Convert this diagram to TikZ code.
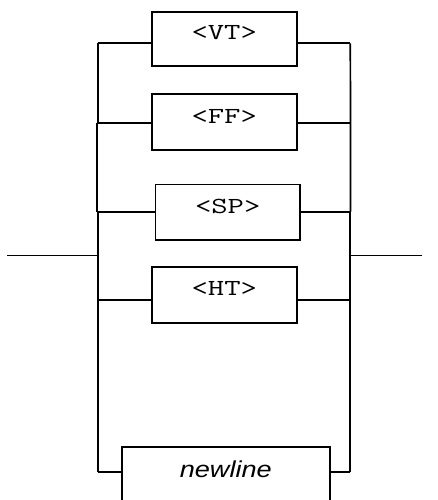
\documentclass[tikz,border=0pt]{standalone}
\usepackage{fontspec}
\setmainfont{Liberation Sans}
\begin{document}
\begin{tikzpicture}[x=1pt,y=-1pt,line width=1.7pt,
  termbox/.style={draw,rectangle,inner sep=0pt,text height=14pt,text depth=12pt,
    font=\ttfamily\fontsize{23}{27}\selectfont},
  ntbox/.style={draw,rectangle,inner sep=0pt,text height=16pt,text depth=12pt,
    font=\fontsize{23}{27}\selectfont\itshape}]
\useasboundingbox (0,0) rectangle (437,500);
\newcommand{\wideT}[1]{\scalebox{1.38}[1]{#1}}
% boxes
\node[termbox,minimum width=145pt,minimum height=53.4pt] (vt) at (224.2,39) {\wideT{<VT>}};
\node[termbox,minimum width=145pt,minimum height=55.7pt] (ff) at (224.2,122.2) {\wideT{<FF>}};
\node[termbox,minimum width=144.7pt,minimum height=55.7pt] (sp) at (227.7,212.2) {\wideT{<SP>}};
\node[termbox,minimum width=144.7pt,minimum height=56pt] (ht) at (224.3,294.7) {\wideT{<HT>}};
\node[ntbox,minimum width=208.3pt,minimum height=56pt] (nl) at (225.8,475.3) {\scalebox{1.18}[1]{newline}};
% rail coordinates
\coordinate (in) at (7.3,255.5);
\coordinate (out) at (422,255.5);
\coordinate (lj) at (98.0,255.5);
\coordinate (rj) at (350.4,255.5);
\coordinate (l1) at (97.7,43.3);
\coordinate (l2a) at (97.7,123.3);
\coordinate (l2b) at (96.7,123.3);
\coordinate (l3a) at (96.7,211.7);
\coordinate (l3b) at (98.0,211.7);
\coordinate (l4) at (98.0,300.3);
\coordinate (l5) at (98.0,472.3);
\coordinate (r1) at (350.3,43.3);
\coordinate (r2) at (350.5,123.3);
\coordinate (r3) at (350.5,211.7);
\coordinate (r3b) at (350.3,211.7);
\coordinate (r4) at (350.3,300.3);
\coordinate (r5) at (350.3,472.3);
% main line
\draw (in) -- (lj);
\draw (rj) -- (out);
% left rails
\draw (l1) -- (l2a);
\draw (l2b) -- (l3a);
\draw (l3b) -- (l5);
% right rails
\draw (r1) -- (r2) -- (r3);
\draw (r3b) -- (r5);
% branches
\draw (l1) -- (l1 -| vt.west);
\draw (l2b) -- (l2b -| ff.west);
\draw (l3b) -- (l3b -| sp.west);
\draw (l4) -- (l4 -| ht.west);
\draw (l5) -- (l5 -| nl.west);
\draw (r1 -| vt.east) -- (r1);
\draw (r2 -| ff.east) -- (r2);
\draw (r3 -| sp.east) -- (r3);
\draw (r4 -| ht.east) -- (r4);
\draw (r5 -| nl.east) -- (r5);
\end{tikzpicture}
\end{document}
